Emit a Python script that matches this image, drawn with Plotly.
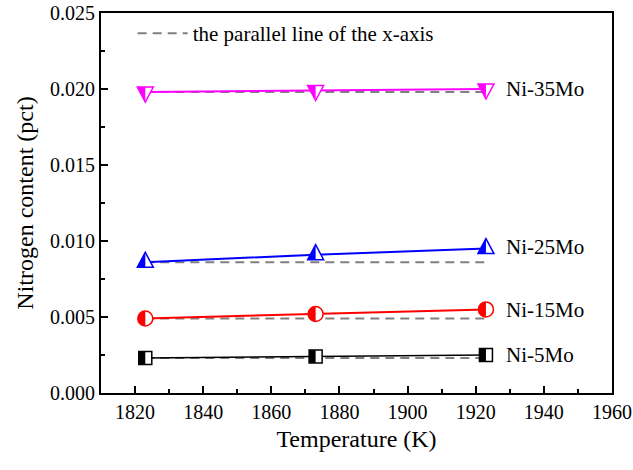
import plotly.graph_objects as go

temperature = [1823, 1873, 1923]
series_names = ["Ni-35Mo", "Ni-25Mo", "Ni-15Mo", "Ni-5Mo"]
n_35mo = [0.0198, 0.0199, 0.0200]
n_25mo = [0.0086, 0.0091, 0.0095]
n_15mo = [0.0049, 0.0052, 0.0055]
n_5mo = [0.0023, 0.0024, 0.0025]
x_ticks = [1820, 1840, 1860, 1880, 1900, 1920, 1940, 1960]
y_ticks = [0.000, 0.005, 0.010, 0.015, 0.020, 0.025]

values = [n_35mo, n_25mo, n_15mo, n_5mo]
colors = ["#FF00FF", "#0000FF", "#FF0000", "#000000"]
line_widths = [2, 2, 2, 1.6]
label_shift = [0, 2, -1, 0]

FONT = "Liberation Serif, Times New Roman, DejaVu Serif, serif"

# marker outline / left-half fill paths (pixel offsets, y up)
k = 0.5523 * 7.5
r = 7.5
marker_paths = {
    "tri_down": ("M-8,5 L8,5 L0,-10 Z", "M-8,5 L0,5 L0,-10 Z"),
    "tri_up": ("M-8,-5 L8,-5 L0,10 Z", "M-8,-5 L0,-5 L0,10 Z"),
    "circle": (
        f"M{r},0 C{r},{k} {k},{r} 0,{r} C{-k},{r} {-r},{k} {-r},0 "
        f"C{-r},{-k} {-k},{-r} 0,{-r} C{k},{-r} {r},{-k} {r},0 Z",
        f"M0,{r} C{-k},{r} {-r},{k} {-r},0 C{-r},{-k} {-k},{-r} 0,{-r} Z",
    ),
    "square": ("M-6.5,-6.5 L6.5,-6.5 L6.5,6.5 L-6.5,6.5 Z",
               "M-6.5,-6.5 L0,-6.5 L0,6.5 L-6.5,6.5 Z"),
}
marker_kind = ["tri_down", "tri_up", "circle", "square"]

fig = go.Figure()

# dashed parallel lines
for i, vals in enumerate(values):
    fig.add_trace(go.Scatter(
        x=[temperature[0], temperature[-1]], y=[vals[0], vals[0]],
        mode="lines", line=dict(color="#808080", width=2, dash="9px,6px"),
        name="the parallel line of the x-axis", legendgroup="par",
        showlegend=(i == 0), hoverinfo="skip"))

# solid data lines
for i, vals in enumerate(values):
    fig.add_trace(go.Scatter(
        x=temperature, y=vals, mode="lines",
        line=dict(color=colors[i], width=line_widths[i]),
        name=series_names[i], showlegend=False))

shapes = []
for i, vals in enumerate(values):
    outline, half = marker_paths[marker_kind[i]]
    for t, v in zip(temperature, vals):
        common = dict(type="path", xref="x", yref="y", xsizemode="pixel",
                      ysizemode="pixel", xanchor=t, yanchor=v, layer="above")
        shapes.append(dict(path=outline, fillcolor="white",
                           line=dict(color=colors[i], width=1.5), **common))
        shapes.append(dict(path=half, fillcolor=colors[i],
                           line=dict(width=0), **common))

annotations = []
for i, vals in enumerate(values):
    annotations.append(dict(
        x=temperature[-1], y=vals[-1], xref="x", yref="y", text=series_names[i],
        showarrow=False, xanchor="left", yanchor="middle", xshift=18,
        yshift=label_shift[i], font=dict(family=FONT, size=21, color="black")))

axis_common = dict(showline=True, linewidth=2, linecolor="black", mirror=True,
                   ticks="inside", ticklen=7, tickwidth=1.5, tickcolor="black",
                   showgrid=False, zeroline=False, automargin=False,
                   tickfont=dict(family=FONT, size=20, color="black"))

fig.update_layout(
    width=633, height=470,
    margin=dict(l=101, r=21, t=13, b=77),
    paper_bgcolor="white", plot_bgcolor="white",
    font=dict(family=FONT, color="black"),
    shapes=shapes, annotations=annotations,
    showlegend=True,
    legend=dict(x=0.062, y=1.0, xanchor="left", yanchor="top",
                bgcolor="rgba(0,0,0,0)", borderwidth=0, itemwidth=50,
                font=dict(family=FONT, size=21, color="black")),
    xaxis=dict(range=[1810, 1960], tickmode="array", tickvals=x_ticks,
               ticktext=[str(v) for v in x_ticks],
               minor=dict(dtick=10, ticks="inside", ticklen=4, tickwidth=1.5,
                          tickcolor="black", showgrid=False),
               title=dict(text="Temperature (K)",
                          font=dict(family=FONT, size=24, color="black"),
                          standoff=8),
               **axis_common),
    yaxis=dict(range=[0, 0.025], tickmode="array", tickvals=y_ticks,
               ticktext=[f"{v:.3f}" for v in y_ticks],
               minor=dict(tick0=0, dtick=0.0025, ticks="inside", ticklen=4,
                          tickwidth=1.5, tickcolor="black", showgrid=False),
               title=dict(text="Nitrogen content (pct)",
                          font=dict(family=FONT, size=24, color="black"),
                          standoff=10),
               **axis_common),
)

fig.write_html("out.html")
